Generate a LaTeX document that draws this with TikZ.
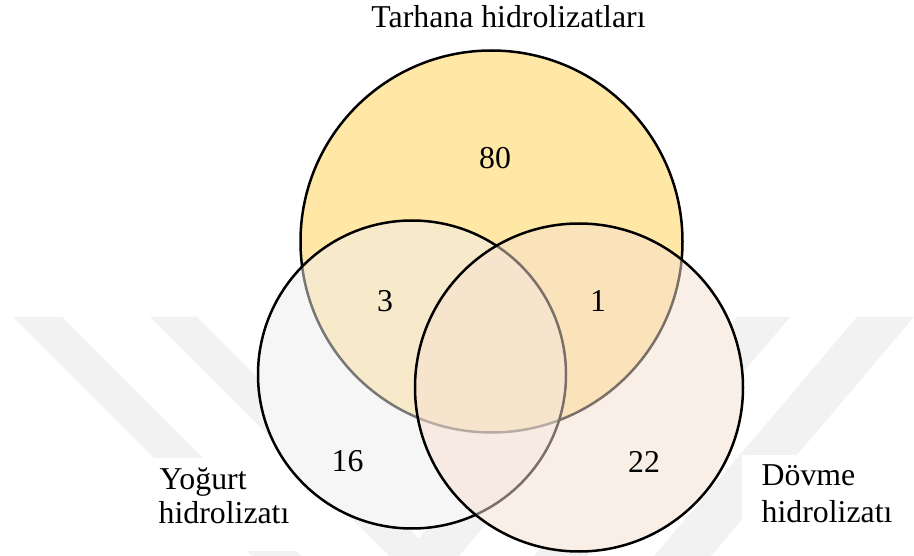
\documentclass[tikz,border=0pt]{standalone}
\usepackage{fontspec}
\setmainfont{Liberation Serif}
\definecolor{topfill}{RGB}{255,231,166}
\definecolor{leftfill}{RGB}{238,238,238}
\definecolor{rightfill}{RGB}{247,224,207}
\definecolor{wmark}{RGB}{242,242,242}
\begin{document}
\begin{tikzpicture}[x=1pt,y=-1pt,
  lbl/.style={font=\fontsize{31.8}{36}\selectfont, inner sep=0pt},
  ring/.style={line width=2.5pt, draw=black},
  wm/.style={fill=wmark}]
\useasboundingbox (0,0) rectangle (914,556);
\fill[white] (0,0) rectangle (914,556);
% faint watermark stripes
\fill[wm] (13,317) -- (62,317) -- (301,556) -- (252,556) -- cycle;
\fill[wm] (150,317) -- (197,317) -- (436,556) -- (389,556) -- cycle;
\fill[wm] (607,317) -- (662,317) -- (459,556) -- (404,556) -- cycle;
\fill[wm] (737,317) -- (790,317) -- (587,556) -- (534,556) -- cycle;
\fill[wm] (857,317) -- (914,317) -- (711,556) -- (654,556) -- cycle;
% white boxes behind the side labels
\fill[white] (150,458) rectangle (300,551);
\fill[white] (742,455) rectangle (914,556);
% circle centres
\coordinate (cT) at (491.5,241.5);
\coordinate (cL) at (412,374.5);
\coordinate (cR) at (579,387.5);
\fill[white] (cL) circle (154pt);
\fill[white] (cR) circle (164pt);
\draw[ring, fill=topfill] (cT) circle (191pt);
\fill[leftfill, fill opacity=0.5] (cL) circle (154pt);
\draw[ring] (cL) circle (154pt);
\fill[rightfill, fill opacity=0.5] (cR) circle (164pt);
\draw[ring] (cR) circle (164pt);
% texts
\node[lbl, anchor=base] (title) at (508.5,27.3) {Tarhana hidrolizatları};
\node[lbl] (n80) at (495,158) {80};
\node[lbl] (n3) at (385,301) {3};
\node[lbl] (n1) at (598,301) {1};
\node[lbl] (n16) at (347.5,461) {16};
\node[lbl] (n22) at (644,462) {22};
\node[lbl, anchor=base west] (yog1) at (159.5,489) {Yoğurt};
\node[lbl, anchor=base west] (yog2) at (158.5,523) {hidrolizatı};
\node[lbl, anchor=base west] (dov1) at (761.5,485) {Dövme};
\node[lbl, anchor=base west] (dov2) at (761.5,522) {hidrolizatı};
\end{tikzpicture}
\end{document}
